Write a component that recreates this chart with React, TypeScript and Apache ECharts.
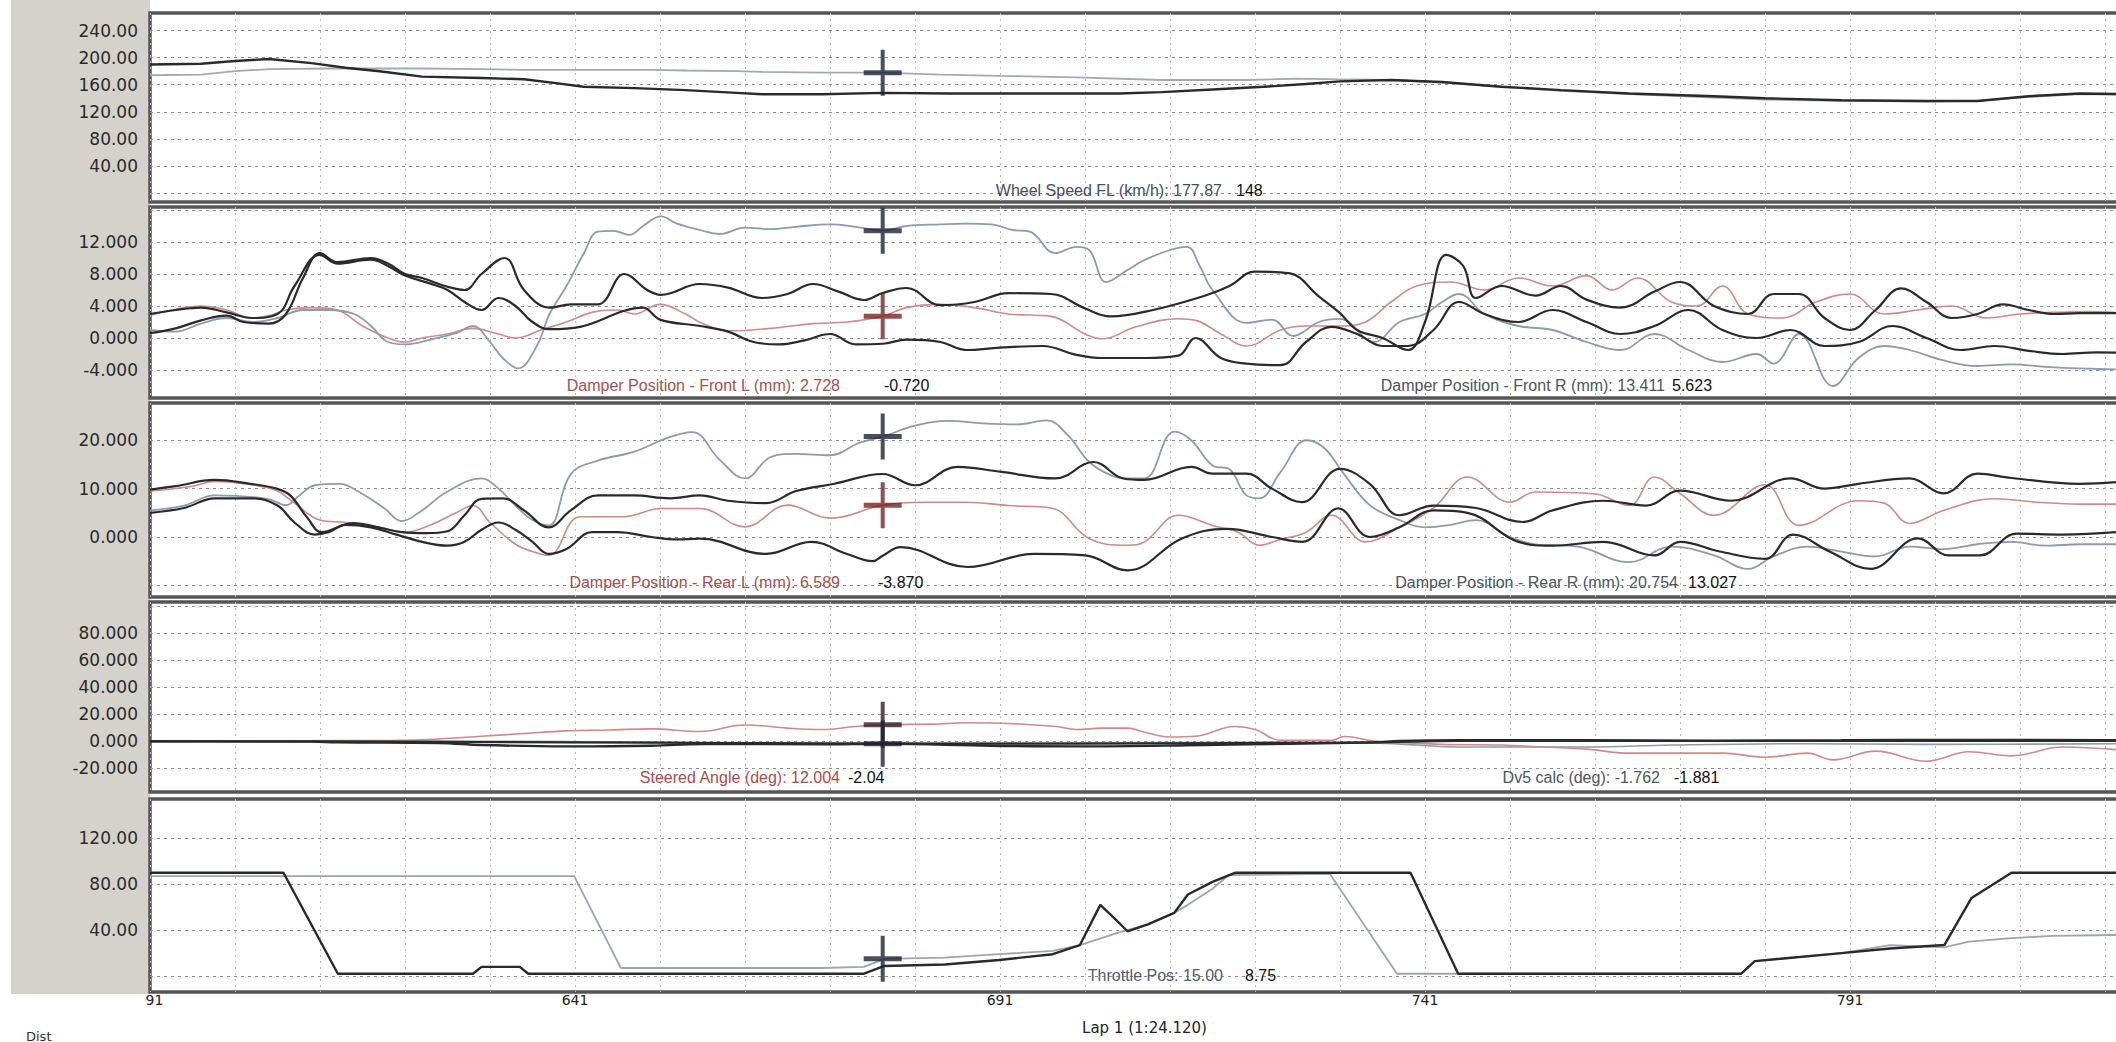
import React, { useEffect, useRef } from "react";
import * as echarts from "echarts";

// ---------- shared distance axis ----------
const distMin = 591;
const distMax = 825;
const distGridLines = [591, 601, 611, 621, 631, 641, 651, 661, 671, 681, 691, 701, 711, 721, 731, 741, 751, 761, 771, 781, 791, 801, 811, 821];
const distTickLabels = [591, 641, 691, 741, 791];
const cursorDist = 677.2;

// ---------- y ticks ----------
const speedGridLines = [0, 40, 80, 120, 160, 200, 240];
const speedTickLabels = [40, 80, 120, 160, 200, 240];
const frontGridLines = [-4, 0, 4, 8, 12, 16];
const frontTickLabels = [-4, 0, 4, 8, 12];
const rearGridLines = [-10, 0, 10, 20];
const rearTickLabels = [0, 10, 20];
const steerGridLines = [-20, 0, 20, 40, 60, 80, 100];
const steerTickLabels = [-20, 0, 20, 40, 60, 80];
const throttleGridLines = [0, 40, 80, 120];
const throttleTickLabels = [40, 80, 120];

// ---------- cursor readouts [current, reference] ----------
const speedReadout = [177.87, 148];
const frontLReadout = [2.728, -0.72];
const frontRReadout = [13.411, 5.623];
const rearLReadout = [6.589, -3.87];
const rearRReadout = [20.754, 13.027];
const steerReadout = [12.004, -2.04];
const dv5Readout = [-1.762, -1.881];
const throttleReadout = [15.0, 8.75];

// ---------- Wheel speed ----------
const speedRef: number[][] = [[591,190],[597,191],[601,195],[605,198],[610,192],[614,185],[618,180],[623,172],[630,170],[635,168],[639,162],[642,157],[648,155],[654,152],[660,148],[663,146],[670,146],[677.2,148],[685,147],[695,147],[705,147],[710,149],[716,153],[722,157],[727,161],[731,165],[737,167],[743,164],[750,157],[757,152],[765,147],[775,143],[781,140],[790,137],[800,136],[806,136],[812,143],[818,147],[825,146]];
const speedCur: number[][] = [[591,174],[597,175],[601,180],[605,183],[612,184],[618,184],[623,184],[630,183],[635,182],[640,182],[645,182],[650,182],[654,181],[660,180],[663,179],[670,178],[677.2,177.87],[684,175],[691,173],[700,171],[710,167],[720,167],[726,169],[731,168],[737,167],[743,163],[750,157],[757,151],[765,146],[775,141],[781,138],[790,136],[800,135],[806,136],[812,142],[818,146],[825,145]];

// ---------- Front dampers ----------
const frontLCur: number[][] = [[591,2.8],[594,3.6],[597,4.0],[600,3.5],[603,2.5],[605,2.8],[607,3.5],[610,3.8],[613,3.5],[616,1.5],[619,0.0],[621,-0.5],[623,0.0],[626,0.5],[629,1.2],[632,0.5],[634,0.0],[637,1.0],[640,2.0],[643,3.2],[646,3.5],[648,3.0],[651,4.2],[654,3.0],[656,1.8],[659,0.9],[664,1.2],[669,1.8],[673,2.0],[677.2,2.728],[680,3.8],[684,4.2],[688,3.8],[692,3.0],[697,2.7],[701,0.5],[703,-0.1],[707,1.4],[712,2.4],[714,2.2],[717,0.5],[720,-1.0],[724,1.0],[727,1.5],[731,1.5],[734,2.0],[737,4.5],[740,6.5],[744,7.0],[748,6.0],[752,7.5],[756,6.5],[760,7.8],[763,6.0],[766,7.5],[770,4.5],[773,4.0],[776,6.5],[779,3.0],[783,2.5],[787,4.5],[791,5.5],[795,3.0],[799,3.5],[803,4.0],[807,2.5],[811,3.0],[815,3.2],[819,3.3],[825,3.0]];
const frontLRef: number[][] = [[591,3.0],[594,3.5],[597,3.8],[600,3.2],[603,2.5],[606,3.0],[608,6.5],[611,10.4],[613,9.3],[617,9.8],[619,9.0],[621,7.8],[624,6.8],[626,6.0],[628,4.5],[630,3.5],[632,5.0],[634,4.0],[636,2.0],[638,1.1],[641.6,1.4],[646.8,3.4],[649,3.8],[651,2.3],[655.7,1.5],[659,0.8],[662,-0.5],[665,-0.8],[668,-0.3],[671,0.5],[674,-0.8],[677.2,-0.72],[680,-0.2],[684,-0.5],[687,-1.5],[691,-1.2],[696,-1.0],[700,-2.1],[703,-2.5],[708,-2.5],[712,-2.2],[714,0.0],[717,-2.5],[720,-3.2],[724,-3.4],[727,-0.5],[730,1.4],[733,0.5],[736,-1.0],[739,-1.0],[742,1.0],[745,4.5],[748,3.0],[752,2.0],[756,3.5],[760,2.0],[764,0.5],[768,1.5],[772,3.5],[776,1.0],[780,0.0],[784,1.0],[788,-1.0],[792,-0.5],[796,1.5],[800,0.0],[804,-1.5],[808,-1.0],[812,-1.6],[816,-2.0],[820,-1.8],[825,-1.9]];
const frontRCur: number[][] = [[591,1.0],[594,0.8],[597,1.8],[600,2.5],[603,2.0],[606,2.5],[609,3.5],[612,3.5],[615,3.0],[617,1.5],[619,-0.5],[621,-0.8],[624,-0.2],[627,0.6],[629,1.5],[631,-0.5],[632.5,-2.5],[634.3,-3.8],[636.5,-1.0],[638,3.0],[640,6.5],[642,10.5],[643.7,13.3],[645.5,13.4],[647.4,12.9],[649,14.0],[651.1,15.2],[653,14.3],[655.7,13.5],[658,13.0],[661,13.8],[664,13.6],[667,13.9],[671,14.2],[674,13.9],[677.2,13.411],[680,14.0],[684,14.2],[687,14.3],[690,14.2],[692.5,13.5],[694.5,13.3],[697.5,10.6],[700,11.4],[701.5,11.0],[703.5,7.0],[706,8.5],[708,9.75],[711,11.0],[713,11.4],[714.5,9.0],[716,6.0],[720,1.9],[723,2.3],[725.5,0.25],[728.5,2.0],[731,2.4],[735,-0.5],[738,2.0],[741,3.0],[743,4.5],[745,5.5],[748,3.0],[752,1.5],[756,1.0],[760,-0.5],[764,-1.5],[768,0.5],[772,-1.5],[776,-3.0],[780,-2.0],[782,-3.2],[785,0.5],[789,-6.0],[792,-2.5],[795,-1.0],[798,-1.5],[802,-2.8],[806,-3.5],[810,-3.3],[814,-3.6],[818,-3.8],[825,-4.0]];
const frontRRef: number[][] = [[591,0.6],[594,1.2],[597,2.2],[600,2.8],[602,2.0],[605,1.8],[607,3.0],[609,7.5],[611,10.6],[613,9.5],[617,10.0],[619,9.3],[621,8.0],[623,7.5],[626,6.4],[628,6.0],[630,8.0],[632.7,10.0],[635,6.0],[638,3.8],[640.5,4.2],[643.7,4.2],[646.8,8.0],[649.5,6.0],[651.1,5.4],[655.7,6.75],[659,6.3],[663,5.0],[666,5.5],[669,6.75],[672,5.8],[675,4.75],[677.2,5.623],[680,6.25],[684,4.1],[688,4.5],[692,5.6],[697,5.5],[701,3.7],[704,2.7],[709,3.5],[715,5.25],[718,6.5],[721,8.3],[725,8.1],[728.5,5.2],[731,3.1],[733,1.0],[736,0.0],[739,-1.5],[741,2.0],[743.5,10.4],[745.5,9.0],[747,5.0],[750,6.5],[754,5.3],[757,6.5],[760,4.8],[764,3.8],[768,5.8],[771,7.0],[775,4.0],[779,3.0],[782,5.5],[785,5.5],[788,2.5],[791,1.0],[794,3.5],[797,6.2],[800,4.5],[803,2.5],[806,3.0],[809,4.2],[812,3.5],[815,3.0],[818,3.1],[825,3.1]];

// ---------- Rear dampers ----------
const rearLCur: number[][] = [[591,9.5],[596,10.5],[598.6,11.5],[603,10.8],[606,9.5],[608,7.0],[611,3.5],[614,3.0],[618,2.0],[621,1.0],[624,2.5],[627,5.0],[629,6.5],[631,3.0],[634,-1.5],[636,-3.0],[637.9,-3.8],[641.6,4.2],[646.8,4.2],[651.1,5.9],[655.7,5.9],[661,2.1],[666,6.6],[671,3.9],[677.2,6.589],[682,7.2],[687,7.2],[692,6.5],[697,6.0],[701.5,-0.35],[706,-1.7],[708,-1.0],[712,4.5],[716,2.4],[719,1.0],[721.5,-1.7],[724,-0.5],[727,1.0],[730,4.5],[734,-1.0],[738,2.0],[742,6.0],[746,12.4],[751,7.2],[754,9.3],[761,8.9],[765,6.5],[768,12.4],[771,9.0],[775,4.5],[781,10.8],[785,2.4],[792,7.5],[795,7.0],[798,2.8],[802,5.5],[808,7.9],[813,7.2],[818,6.8],[825,6.8]];
const rearLRef: number[][] = [[591,5.0],[595,6.0],[598.6,8.0],[603,8.0],[606,6.5],[608,3.0],[610.4,0.5],[612,1.0],[614,2.5],[617,2.0],[620,0.5],[623,-1.0],[626,-1.8],[628,-1.0],[630,1.5],[632,3.0],[634,1.5],[636,-1.0],[637.9,-3.5],[640,-2.5],[643,1.0],[646,1.0],[650,0.0],[653,-0.5],[655.7,-0.35],[663.5,-3.5],[668.8,-1.0],[673,-3.5],[676,-5.0],[677.2,-3.87],[679.3,-2.1],[687.2,-6.2],[695,-3.5],[701,-3.8],[706,-6.9],[712.4,-0.3],[717.7,1.7],[723,0.0],[726.6,-1.0],[730.8,5.9],[734.5,0.0],[738,2.0],[742,5.5],[746,5.0],[752,-1.0],[756,-1.8],[762,-1.0],[768,-3.8],[771,-1.0],[775.7,-3.0],[781,-4.5],[784.3,0.5],[788.6,-3.0],[793.4,-6.6],[799,-0.3],[802.6,-3.8],[806.3,-3.8],[810.6,0.7],[816,0.5],[825,1.4]];
const rearRCur: number[][] = [[591,5.5],[595,6.5],[598.6,8.6],[604.8,7.9],[607,6.6],[608.5,8.5],[610.4,10.7],[613.3,11.0],[615.6,9.3],[618.6,5.9],[620.6,3.3],[623,5.5],[625.9,9.3],[630,12.1],[632,10.0],[634,6.5],[636,3.5],[637.9,2.4],[640.5,13.0],[643.7,15.8],[647.9,17.6],[652.2,20.7],[654.8,21.7],[658,16.0],[661,12.1],[664,16.5],[667,17.2],[671,16.9],[674.5,19.5],[677.2,20.754],[681,23.0],[685,24.0],[689,23.5],[693,23.3],[696.5,24.1],[699,21.0],[701.5,15.5],[704,12.8],[706,12.1],[708,12.1],[711.5,21.8],[713.5,20.0],[716,14.8],[718,14.0],[720,8.6],[721.5,8.0],[724,13.4],[727.1,20.0],[729.2,18.3],[731.3,13.4],[734.5,6.6],[738,3.5],[741,2.0],[744,2.5],[747,3.5],[751,0.0],[754,-1.5],[759,-2.0],[765,-5.2],[770,-2.0],[775,-3.8],[779,-6.6],[782,-4.0],[786,-2.0],[790,-3.0],[794,-4.0],[798,-2.0],[802,-2.5],[806,-1.5],[810,-1.0],[814,-1.8],[818,-1.5],[825,-1.5]];
const rearRRef: number[][] = [[591,9.8],[594,10.5],[598.6,11.8],[602.8,11.0],[605.9,10.0],[607.5,8.6],[609.5,4.0],[611.2,1.0],[614.9,2.9],[618.1,1.9],[620.6,1.0],[623.5,0.8],[626,1.2],[628,4.5],[630,7.9],[632.5,8.0],[635,5.5],[637.9,2.0],[640.5,5.5],[643.7,8.6],[647.9,8.6],[652.2,8.0],[655.7,8.6],[659,7.5],[663.5,7.0],[667,9.5],[671.5,11.0],[677.2,13.027],[681,10.7],[686,14.5],[691,13.5],[697.5,12.1],[702,15.5],[705.5,12.1],[708,11.8],[713.5,14.5],[716,13.1],[720,13.1],[723,10.0],[726.5,7.2],[731,14.1],[734.5,11.0],[738,4.5],[742,6.5],[747,6.0],[752.5,3.1],[756,5.5],[762,7.5],[767,6.5],[771,9.6],[777,7.5],[784,12.1],[788,10.0],[792,11.0],[798,12.1],[802,9.0],[806,13.1],[810,12.2],[818,11.0],[825,11.8]];

// ---------- Steering ----------
const steerCur: number[][] = [[591,0],[605,0],[613.6,0.3],[620,0.5],[625,1.5],[630,3.5],[635,5.5],[640,7.5],[645,8.2],[650,9.0],[655.7,7.0],[661,11.9],[666,9.5],[670,8.5],[674,10.7],[677.2,12.004],[683,12.5],[687,13.5],[692,13.0],[697.6,10.7],[700,8.5],[703,9.5],[706,9.5],[708,6.5],[711,3.0],[714,3.5],[718.6,10.7],[721,8.5],[724,0.5],[730,0.5],[731.5,3.3],[735,0],[738,-1.0],[743,-2.5],[750,-3.0],[755,-4.5],[760,-6],[765,-9],[776,-9],[781,-12],[786,-9],[789,-14],[794,-7.5],[800,-15],[805,-8],[810,-11],[816,-4.5],[825,-8]];
const steerRef: number[][] = [[591,-0.5],[610,-0.5],[613,-1.0],[625,-1.5],[630,-3.0],[640,-4.0],[650,-3.5],[656,-2.2],[670,-2.5],[677.2,-2.04],[690,-3.5],[700,-4.0],[715,-3.0],[725,-2.0],[735,-1.0],[738,0.0],[745,0.5],[760,0.5],[775,0.3],[790,0.5],[805,0.8],[825,0.5]];
const dv5Cur: number[][] = [[591,0],[620,0],[640,-0.5],[660,-1.5],[677.2,-1.762],[700,-1.5],[720,-1.0],[735,-1.5],[740,-3.0],[745,-4.5],[760,-4.5],[770,-3.0],[785,-2.0],[800,-2.5],[825,-2.0]];
const dv5Ref: number[][] = [[591,0],[620,-0.5],[640,-1.0],[660,-1.5],[677.2,-1.881],[700,-2.0],[720,-1.5],[735,-1.0],[745,0.0],[825,0.0]];

// ---------- Throttle ----------
const throttleRef: number[][] = [[591,90],[606.7,90],[613.1,2],[629,2],[630,8],[634.5,8],[635.5,2],[675,2],[677.4,8.75],[684.5,10],[690.9,14],[697.2,19],[700.4,27],[702.8,62],[704.5,50],[706,39],[708.4,45],[711.5,55],[713.1,71],[716,82],[718.7,90],[739.3,90],[744.9,2],[778.2,2],[779.8,13],[790,20],[795.7,24],[802.1,27],[805.3,68],[810,90],[825,90]];
const throttleCur: number[][] = [[591,87],[640.9,87],[646.4,7],[670,7],[675,8],[677.4,15],[684.5,16],[690.9,19],[697.2,22],[700.4,27],[705,38],[708.4,45],[711.5,55],[713.1,62],[716,76],[717.9,88],[729.8,89],[737.7,2],[778.2,2],[779.8,13],[790,20],[795.7,27],[802.1,25],[805,30],[810,33],[814.8,35],[825,36]];

const BLACK = "#2a2a2a";
const BLUEGRAY = "#8a9cad";
const PINK = "#cf8a8a";
const NAVY = "#1d2238";
const DARKRED = "#7a2222";
const CROSS = "path://M17,0L21,0L21,20.5L38,20.5L38,25.5L21,25.5L21,46L17,46L17,25.5L0,25.5L0,20.5L17,20.5Z";

export default function App() {
  const ref = useRef<HTMLDivElement>(null);

  useEffect(() => {
    if (!ref.current) return;
    const chart = echarts.init(ref.current, undefined, { renderer: "svg" });

    const panels = [
      { top: 13, height: 189, min: -13.3, max: 266, grid: speedGridLines, labels: speedTickLabels, dec: 2 },
      { top: 207, height: 191, min: -7.5, max: 16.375, grid: frontGridLines, labels: frontTickLabels, dec: 3 },
      { top: 403, height: 194, min: -12.4, max: 27.7, grid: rearGridLines, labels: rearTickLabels, dec: 3 },
      { top: 602, height: 190, min: -37.8, max: 103, grid: steerGridLines, labels: steerTickLabels, dec: 3 },
      { top: 799, height: 193, min: -13.9, max: 154.2, grid: throttleGridLines, labels: throttleTickLabels, dec: 2 },
    ];

    const line = (name: string, data: number[][], g: number, color: string, width: number, smooth: number | boolean) => ({
      type: "line", name, data, xAxisIndex: g, yAxisIndex: g, showSymbol: false, symbol: "none",
      smooth, lineStyle: { color, width }, itemStyle: { color }, z: 3, silent: true,
    });
    const cross = (g: number, value: number, color: string) => ({
      type: "scatter", data: [[cursorDist, value]], xAxisIndex: g, yAxisIndex: g,
      symbol: CROSS, symbolSize: [38, 46], itemStyle: { color }, z: 10, silent: true,
    });

    const readFont = { fontSize: 16, fontFamily: "Liberation Sans", verticalAlign: "middle" };
    const txt = (x: number, y: number, text: string, color: string, align: string) => ({
      type: "text", x, y, z: 50, silent: true,
      style: { text, fill: color, align, ...readFont },
    });

    const option: any = {
      animation: false,
      backgroundColor: "#ffffff",
      grid: panels.map((p) => ({
        left: 150, width: 1989, top: p.top, height: p.height,
        show: true, backgroundColor: "#ffffff", borderColor: "#565656", borderWidth: 3.5,
      })),
      xAxis: panels.map((p, i) => ({
        type: "value", gridIndex: i, min: distMin, max: distMax,
        axisLine: { show: false },
        axisTick: { show: false, customValues: distGridLines },
        axisLabel: {
          show: i === 4, customValues: distTickLabels, fontSize: 14, color: "#222",
          fontFamily: "DejaVu Sans", margin: 1, formatter: (v: number) => String(v),
        },
        splitLine: { show: true, lineStyle: { color: "#b9b9b9", type: [2, 4], width: 1 } },
        name: i === 4 ? "Lap 1 (1:24.120)" : "",
        nameLocation: "middle", nameGap: 28,
        nameTextStyle: { fontSize: 15, color: "#222", fontFamily: "DejaVu Sans" },
      })),
      yAxis: panels.map((p, i) => ({
        type: "value", gridIndex: i, min: p.min, max: p.max,
        axisLine: { show: false },
        axisTick: { show: false, customValues: p.grid },
        axisLabel: {
          customValues: p.labels, fontSize: 17, color: "#2a2a2a", fontFamily: "DejaVu Sans",
          margin: 12, formatter: (v: number) => v.toFixed(p.dec),
        },
        splitLine: { show: true, lineStyle: { color: "#8c8c8c", type: [3, 4], width: 1 } },
      })),
      series: [
        line("Wheel Speed FL cur", speedCur, 0, "#9eabb7", 1.8, false),
        line("Wheel Speed FL ref", speedRef, 0, BLACK, 2.4, false),
        line("Front L cur", frontLCur, 1, PINK, 1.6, 0.4),
        line("Front R cur", frontRCur, 1, BLUEGRAY, 1.8, 0.4),
        line("Front L ref", frontLRef, 1, BLACK, 2.2, 0.4),
        line("Front R ref", frontRRef, 1, BLACK, 2.2, 0.4),
        line("Rear L cur", rearLCur, 2, PINK, 1.6, 0.4),
        line("Rear R cur", rearRCur, 2, BLUEGRAY, 1.8, 0.4),
        line("Rear L ref", rearLRef, 2, BLACK, 2.2, 0.4),
        line("Rear R ref", rearRRef, 2, BLACK, 2.2, 0.4),
        line("Dv5 cur", dv5Cur, 3, BLUEGRAY, 1.6, 0.4),
        line("Steer cur", steerCur, 3, PINK, 1.6, 0.4),
        line("Dv5 ref", dv5Ref, 3, BLACK, 2.2, 0.4),
        line("Steer ref", steerRef, 3, BLACK, 2.4, 0.4),
        line("Throttle cur", throttleCur, 4, "#9aa6b0", 1.8, false),
        line("Throttle ref", throttleRef, 4, BLACK, 2.4, false),
        cross(0, speedReadout[0], NAVY),
        cross(1, frontRReadout[0], NAVY),
        cross(1, frontLReadout[0], DARKRED),
        cross(2, rearRReadout[0], NAVY),
        cross(2, rearLReadout[0], DARKRED),
        cross(3, steerReadout[0], "#3a1c22"),
        cross(3, steerReadout[1], NAVY),
        cross(4, throttleReadout[0], NAVY),
      ],
      graphic: [
        { type: "rect", z: -10, silent: true, shape: { x: 11, y: 0, width: 139, height: 994 }, style: { fill: "#d5d2cc" } },
        { type: "rect", z: 40, silent: true, shape: { x: 0, y: 994, width: 146, height: 18 }, style: { fill: "#ffffff" } },
        txt(1222, 190, "Wheel Speed FL (km/h): " + speedReadout[0].toFixed(2), "#3e5163", "right"),
        txt(1236, 190, speedReadout[1].toFixed(0), "#111", "left"),
        txt(840, 385, "Damper Position - Front L (mm): " + frontLReadout[0].toFixed(3), "#a5524c", "right"),
        txt(884, 385, frontLReadout[1].toFixed(3), "#111", "left"),
        txt(1665, 385, "Damper Position - Front R (mm): " + frontRReadout[0].toFixed(3), "#4a5660", "right"),
        txt(1672, 385, frontRReadout[1].toFixed(3), "#111", "left"),
        txt(840, 582, "Damper Position - Rear L (mm): " + rearLReadout[0].toFixed(3), "#a5524c", "right"),
        txt(878, 582, rearLReadout[1].toFixed(3), "#111", "left"),
        txt(1678, 582, "Damper Position - Rear R (mm): " + rearRReadout[0].toFixed(3), "#4a5660", "right"),
        txt(1688, 582, rearRReadout[1].toFixed(3), "#111", "left"),
        txt(840, 777, "Steered Angle (deg): " + steerReadout[0].toFixed(3), "#b04a48", "right"),
        txt(848, 777, steerReadout[1].toFixed(2), "#111", "left"),
        txt(1660, 777, "Dv5 calc (deg): " + dv5Readout[0].toFixed(3), "#4a5660", "right"),
        txt(1674, 777, dv5Readout[1].toFixed(3), "#111", "left"),
        txt(1223, 975, "Throttle Pos: " + throttleReadout[0].toFixed(2), "#4e6070", "right"),
        txt(1245, 975, throttleReadout[1].toFixed(2), "#111", "left"),
        { type: "text", x: 26, y: 1036, z: 50, silent: true, style: { text: "Dist", fill: "#333", fontSize: 13, fontFamily: "DejaVu Sans", verticalAlign: "middle" } },
      ],
    };

    chart.setOption(option);
    return () => chart.dispose();
  }, []);

  return (
    <div style={{ position: "fixed", left: 0, top: 0, width: 2116, height: 1042, overflow: "hidden", background: "#fff" }}>
      <div ref={ref} style={{ width: 2160, height: 1042 }} />
    </div>
  );
}
